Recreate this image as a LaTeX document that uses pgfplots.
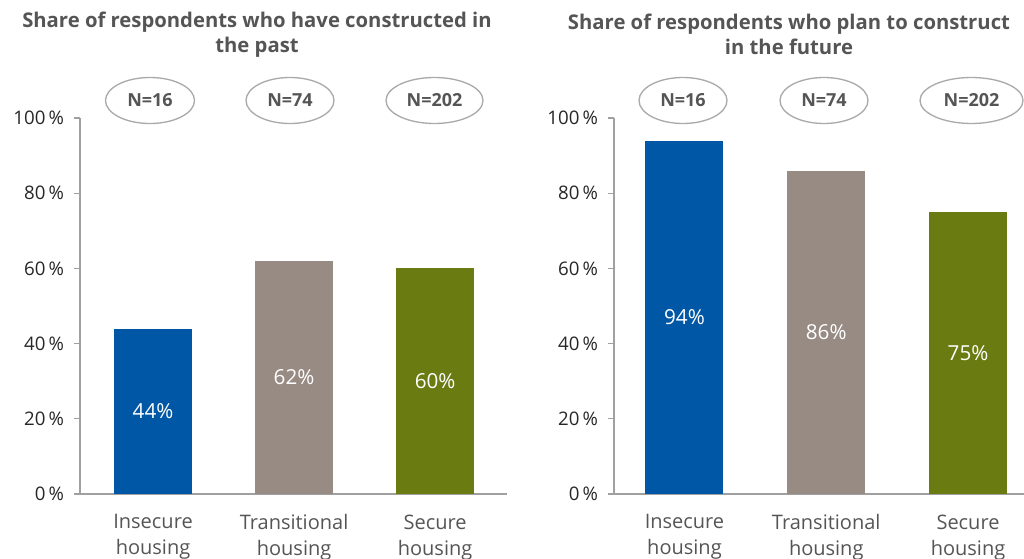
\documentclass[border=0pt]{standalone}
\usepackage{pgfplots}
\pgfplotsset{compat=1.18}
\usepackage{fontspec}
\setmainfont{Open Sans}

\definecolor{cblue}{RGB}{0,87,165}
\definecolor{ctaupe}{RGB}{152,139,131}
\definecolor{colive}{RGB}{106,123,18}
\definecolor{textgrey}{RGB}{85,85,85}
\definecolor{axisgrey}{RGB}{160,160,160}
\definecolor{ringgrey}{RGB}{170,170,170}

\pgfplotsset{
  housebar/.style={
    scale only axis, height=282pt,
    ymin=0, ymax=100,
    axis lines*=left,
    axis line style={draw=axisgrey, line width=1pt},
    /pgf/number format/assume math mode=true,
    ytick={0,20,...,100},
    yticklabel={\pgfmathprintnumber{\tick}\,\%},
    yticklabel style={font=\fontsize{14}{16}\selectfont, text=black!85, xshift=-4pt},
    ytick style={draw=axisgrey, line width=0.8pt},
    tick align=outside, major tick length=4.5pt,
    xtick={0,1,2},
    xticklabels={{Insecure\\housing},{Transitional\\housing},{Secure\\housing}},
    xticklabel style={align=center, font=\fontsize{15}{19.5}\selectfont, text=textgrey,
      yshift=-7.5pt},
    x tick style={draw=none},
    ybar, bar width=58.5pt, bar shift=0pt,
    visualization depends on={rawy \as \rawy},
    nodes near coords={\pgfmathprintnumber{\pgfplotspointmeta}\%},
    nodes near coords style={text=white, font=\fontsize{15.5}{18}\selectfont,
      anchor=center, yshift=-1.41pt*\rawy},
  }
}

\begin{document}
\begin{tikzpicture}

\begin{axis}[housebar, at={(60pt,48pt)}, anchor=south west,
  width=320.25pt, xmin=-0.518, xmax=2.51]
\addplot[fill=cblue, draw=none] coordinates {(0,44)};
\addplot[fill=ctaupe, draw=none] coordinates {(1,62)};
\addplot[fill=colive, draw=none] coordinates {(2,60)};
\end{axis}

\begin{axis}[housebar, at={(460.5pt,48pt)}, anchor=south west,
  width=307.5pt, xmin=-0.497, xmax=2.395]
\addplot[fill=cblue, draw=none] coordinates {(0,94)};
\addplot[fill=ctaupe, draw=none] coordinates {(1,86)};
\addplot[fill=colive, draw=none] coordinates {(2,75)};
\end{axis}

\begin{scope}[x=0.75pt, y=0.75pt]
% titles
\node[align=center, text=textgrey, font=\bfseries\fontsize{15.2}{18.75}\selectfont]
  at (257,523.5) {Share of respondents who have constructed in\\the past};
\node[align=center, text=textgrey, font=\bfseries\fontsize{15.2}{18.75}\selectfont]
  at (789,523.5) {Share of respondents who plan to construct\\in the future};

% sample sizes
\foreach \cx/\rx/\lab in {150/44.5/16, 290/44/74, 434.5/48.5/202,
                          683/44/16, 824/44/74, 971.5/51.5/202}{
  \draw[ringgrey, line width=1pt] (\cx,457.5) ellipse [x radius=\rx, y radius=23];
  \node[text=textgrey, font=\bfseries\fontsize{13.5}{16}\selectfont] at (\cx,457.5) {N=\lab};
}

\pgfresetboundingbox
\path[use as bounding box] (0,0) rectangle (1024,558);
\end{scope}
\end{tikzpicture}
\end{document}
